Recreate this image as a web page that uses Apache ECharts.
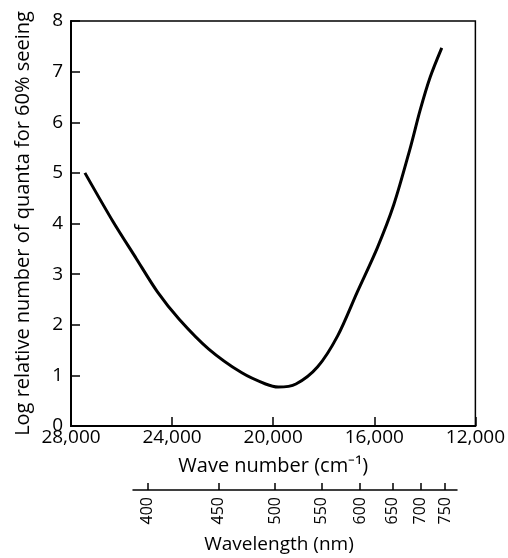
<!DOCTYPE html>
<html>
<head>
<meta charset="utf-8">
<script src="https://cdn.jsdelivr.net/npm/echarts@6/dist/echarts.min.js"></script>
<style>
html,body{margin:0;padding:0;background:#fff;}
#chart{width:508px;height:558px;}
</style>
</head>
<body>
<div id="chart"></div>
<script>
// Wave number (cm^-1) and log relative number of quanta for 60% seeing
var waveNumbers = [27450, 26340, 25420, 24580, 23720, 22550, 21240, 20300, 19800, 19100, 18240, 17450, 16670, 15880, 15230, 14600, 14180, 13790, 13330];
var logQuanta   = [5.00, 4.04, 3.31, 2.65, 2.11, 1.52, 1.05, 0.83, 0.77, 0.83, 1.17, 1.78, 2.65, 3.52, 4.37, 5.45, 6.25, 6.89, 7.47];
// Secondary scale: wavelength tick labels (nm)
var wavelengths = [400, 450, 500, 550, 600, 650, 700, 750];

var FONT = 'Open Sans';
var chart = echarts.init(document.getElementById('chart'), null, {renderer: 'canvas'});
var lineData = waveNumbers.map(function (w, i) { return [w, logQuanta[i]]; });
var wlTickValues = wavelengths.map(function (l) { return 1e7 / l; });

chart.setOption({
  animation: false,
  backgroundColor: '#fff',
  textStyle: {fontFamily: FONT, color: '#000'},
  grid: [
    {left: 71, right: 28, top: 21, bottom: 132, show: true, borderColor: '#000', borderWidth: 1.5, containLabel: false},
    {left: 133, right: 51, top: 489, height: 1, containLabel: false}
  ],
  xAxis: [
    {
      type: 'value', gridIndex: 0, inverse: true,
      min: 12000, max: 28000, interval: 4000,
      name: 'Wave number (cm\u207B\u00B9)', nameLocation: 'middle', nameGap: 30,
      nameTextStyle: {fontFamily: FONT, fontSize: 20, color: '#000'},
      axisLine: {show: true, lineStyle: {color: '#000', width: 2}},
      axisTick: {show: true, inside: true, length: 9, lineStyle: {color: '#000', width: 1.5}},
      axisLabel: {margin: 2, fontFamily: FONT, fontSize: 19, color: '#000',
        formatter: function (v) { return v.toLocaleString('en-US'); }},
      splitLine: {show: false}
    },
    {
      type: 'value', gridIndex: 1, inverse: true, position: 'bottom',
      min: 12863, max: 25569,
      name: 'Wavelength (nm)', nameLocation: 'middle', nameGap: 45,
      nameTextStyle: {fontFamily: FONT, fontSize: 19, color: '#000', padding: [0, 32, 0, 0]},
      axisLine: {show: true, lineStyle: {color: '#000', width: 1.5}},
      axisTick: {show: true, inside: true, length: 7, customValues: wlTickValues, lineStyle: {color: '#000', width: 1.5}},
      axisLabel: {show: true, rotate: 90, margin: 7, fontFamily: FONT, fontSize: 16, color: '#000',
        customValues: wlTickValues,
        formatter: function (v) { return String(Math.round(1e7 / v)); }},
      splitLine: {show: false}
    }
  ],
  yAxis: [
    {
      type: 'value', gridIndex: 0, min: 0, max: 8, interval: 1,
      name: 'Log relative number of quanta for 60% seeing', nameLocation: 'middle', nameGap: 38,
      nameTextStyle: {fontFamily: FONT, fontSize: 20, color: '#000'},
      axisLine: {show: true, lineStyle: {color: '#000', width: 2}},
      axisTick: {show: true, inside: true, length: 9, lineStyle: {color: '#000', width: 1.5}},
      axisLabel: {margin: 8, fontFamily: FONT, fontSize: 19, color: '#000'},
      splitLine: {show: false}
    },
    {type: 'value', gridIndex: 1, show: false, min: 0, max: 1}
  ],
  series: [
    {
      type: 'line', xAxisIndex: 0, yAxisIndex: 0,
      data: lineData, smooth: 0.3, showSymbol: false, symbol: 'none',
      lineStyle: {color: '#000', width: 3}
    }
  ]
});
</script>
</body>
</html>
